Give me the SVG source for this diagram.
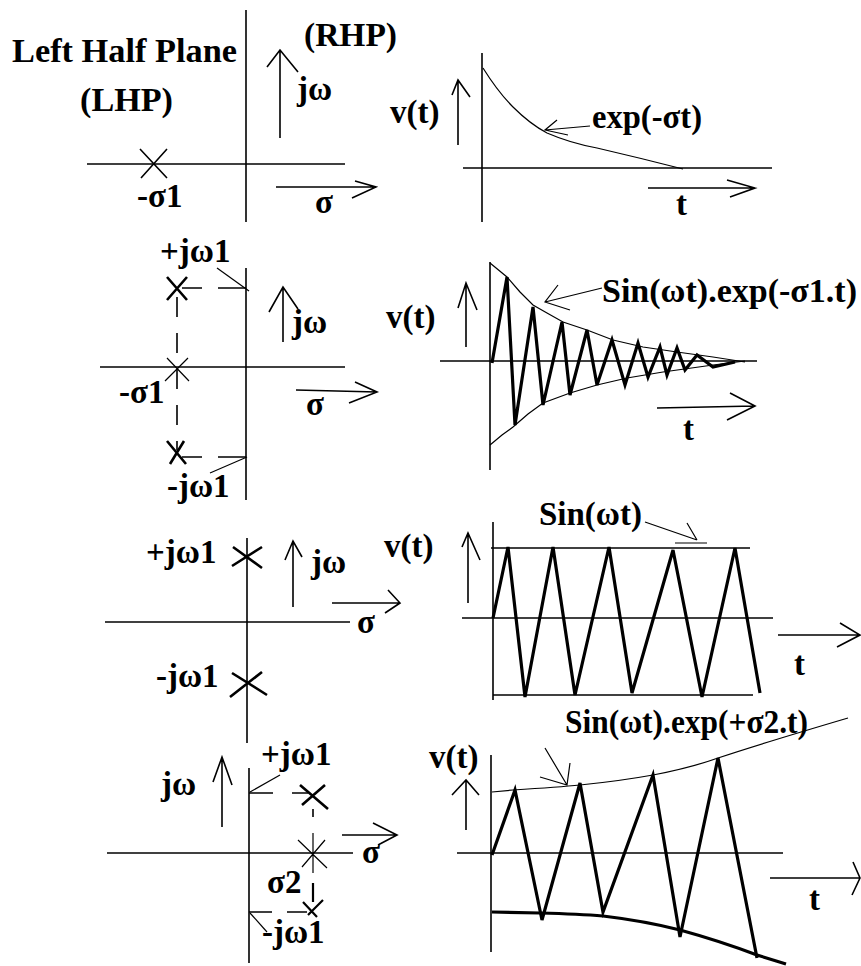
<svg xmlns="http://www.w3.org/2000/svg" width="861" height="966" viewBox="0 0 861 966">
<style>
text{font-family:"Liberation Serif","Times New Roman",serif;font-weight:bold;font-size:33px;fill:#000}
.ax{stroke:#000;stroke-width:1.6;fill:none}
.th{stroke:#000;stroke-width:1.2;fill:none}
.bd{stroke:#000;stroke-width:3.2;fill:none;stroke-linejoin:miter}
.ds{stroke:#000;stroke-width:1.6;fill:none;stroke-dasharray:20 16}
</style>
<rect width="861" height="966" fill="#fff"/>

<g id="splane1">
<line class="ax" x1="246" y1="10" x2="246" y2="222"/>
<line class="ax" x1="87" y1="164" x2="345" y2="164"/>
<path class="ax" d="M140,149 L167,178 M167,149 L141,178"/>
<text x="12" y="62" textLength="225" lengthAdjust="spacingAndGlyphs">Left Half Plane</text>
<text x="80" y="111" textLength="93" lengthAdjust="spacingAndGlyphs">(LHP)</text>
<text x="304" y="46" textLength="93" lengthAdjust="spacingAndGlyphs">(RHP)</text>
<text x="297" y="100">jω</text>
<text x="137" y="207">-σ1</text>
<text x="315" y="213">σ</text>
</g>
<g id="time1">
<line class="ax" x1="482" y1="53" x2="482" y2="222"/>
<line class="ax" x1="463" y1="168" x2="772" y2="168"/>
<path class="th" d="M483,68 Q498,92 513,107 Q530,124 547,133 Q570,143 597,148 Q640,158 683,169"/>
<text x="390" y="123">v(t)</text>
<text x="592" y="128" textLength="110" lengthAdjust="spacingAndGlyphs">exp(-σt)</text>
<text x="676" y="215">t</text>
</g>

<g id="splane2">
<line class="ax" x1="246" y1="268" x2="246" y2="500"/>
<line class="ax" x1="100" y1="367" x2="345" y2="367"/>
<path class="bd" d="M167,277 L187,300 M187,277 L167,300" style="stroke-width:2.6"/>
<path class="th" d="M167,358 L189,381 M188,358 L165,381"/>
<path class="bd" d="M167,441 L186,464 M184,441 L170,464" style="stroke-width:2.6"/>
<path class="ax" d="M182,288 L202,288 M218,288 L246,288"/>
<path class="ax" d="M182,457 L202,457 M218,457 L246,457"/>
<line class="ds" x1="177" y1="297" x2="177" y2="450"/>
<text x="160" y="262">+jω1</text>
<text x="292" y="333">jω</text>
<text x="119" y="403">-σ1</text>
<text x="306" y="415">σ</text>
<text x="167" y="497">-jω1</text>
</g>
<g id="time2">
<line class="ax" x1="490" y1="262" x2="490" y2="470"/>
<line class="ax" x1="440" y1="361" x2="757" y2="361"/>
<polyline class="th" points="490,263 507,277 520,292 533,305 547,313 563,322 587,330 613,340 643,347 677,352 713,357 745,362"/>
<polyline class="th" points="490,445 502,435 513,427 528,414 543,403 570,393 597,385 627,378 663,372 713,365 745,361"/>
<polyline class="bd" points="492,363 507,277 515,425 533,307 543,405 562,322 570,395 587,330 597,385 612,340 625,385 638,343 648,377 660,347 667,375 677,348 685,370 697,355 713,367 735,362"/>
<text x="386" y="328">v(t)</text>
<text x="602" y="302" textLength="255" lengthAdjust="spacingAndGlyphs">Sin(ωt).exp(-σ1.t)</text>
<text x="683" y="440">t</text>
</g>

<g id="splane3">
<line class="ax" x1="247" y1="538" x2="247" y2="743"/>
<line class="ax" x1="105" y1="622" x2="350" y2="622"/>
<path class="bd" d="M233,547 L262,568 M262,547 L232,566" style="stroke-width:2.6"/>
<path class="bd" d="M232,673 L267,695 M262,672 L230,697" style="stroke-width:2.6"/>
<text x="146" y="563">+jω1</text>
<text x="311" y="573">jω</text>
<text x="357" y="633">σ</text>
<text x="156" y="687">-jω1</text>
</g>
<g id="time3">
<line class="ax" x1="493" y1="522" x2="493" y2="700"/>
<line class="ax" x1="491" y1="548" x2="750" y2="548"/>
<line class="ax" x1="462" y1="618" x2="773" y2="618"/>
<line class="ax" x1="493" y1="695" x2="753" y2="695"/>
<polyline class="bd" points="493,618 508,547 525,697 553,547 575,695 609,547 632,693 673,550 702,697 735,548 760,693"/>
<text x="384" y="557">v(t)</text>
<text x="539" y="525">Sin(ωt)</text>
<text x="794" y="675">t</text>
</g>

<g id="splane4">
<line class="ax" x1="249" y1="768" x2="249" y2="963"/>
<line class="ax" x1="107" y1="853" x2="353" y2="853"/>
<path class="bd" d="M300,785 L328,809 M325,785 L302,805" style="stroke-width:2.6"/>
<path class="th" d="M313,833 L313,873 M298,840 L327,868 M325,840 L302,867"/>
<path class="ax" d="M313,883 L313,902 M303,902 L317,917 M323,900 L308,915" style="stroke-width:2.2"/>
<path class="ax" d="M313,809 L313,817"/>
<path class="ax" d="M249,793 L273,793 M292,793 L308,793"/>
<path class="ax" d="M249,912 L272,912 M287,912 L307,912"/>
<text x="261" y="765">+jω1</text>
<text x="161" y="795">jω</text>
<text x="362" y="863">σ</text>
<text x="267" y="893">σ2</text>
<text x="262" y="943">-jω1</text>
</g>
<g id="time4">
<line class="ax" x1="491" y1="755" x2="491" y2="952"/>
<line class="ax" x1="457" y1="853" x2="783" y2="853"/>
<path class="th" d="M492,792 L513,790 Q560,787 580,785 Q620,781 653,775 Q690,768 718,758 Q760,744 848,718"/>
<path class="bd" d="M492,912 L540,913 Q580,914 603,916 Q645,921 680,930 Q720,941 757,955 L786,964"/>
<polyline class="bd" points="492,855 515,790 542,920 580,783 603,912 653,775 680,937 718,758 757,958"/>
<text x="429" y="768">v(t)</text>
<text x="565" y="733" textLength="243" lengthAdjust="spacingAndGlyphs">Sin(ωt).exp(+σ2.t)</text>
<text x="809" y="910">t</text>
</g>

<g id="connectors">
<path class="ax" d="M280,138 L280,50 M267,67 L280,50 L298,72"/>
<path class="ax" d="M276,187 L376,187 M355,181 L376,187 L352,198"/>
<path class="ax" d="M458,145 L458,80 M452,95 L458,80 L470,97"/>
<path class="th" d="M590,126 L545,130 M557,120 L545,130 L568,135"/>
<path class="ax" d="M648,188 L755,188 M727,180 L755,188 L730,197"/>
<path class="th" d="M217,268 L249,291"/>
<path class="th" d="M210,473 L247,457"/>
<path class="ax" d="M283,342 L283,287 M269,312 L283,287 L298,309"/>
<path class="ax" d="M296,390 L377,392 M355,382 L377,392 L349,403"/>
<path class="ax" d="M466,347 L466,283 M458,308 L466,283 L477,310"/>
<path class="th" d="M602,288 L545,302 M558,285 L545,302 L570,310"/>
<path class="ax" d="M657,408 L755,406 M730,393 L755,406 L727,420"/>
<path class="ax" d="M293,607 L293,541 M285,560 L293,541 L302,557"/>
<path class="ax" d="M332,603 L400,603 M388,590 L400,603 L385,613"/>
<path class="ax" d="M468,603 L468,533 M462,547 L468,533 L480,560"/>
<path class="th" d="M645,522 L697,540 M687,523 L697,540 M675,543 L707,543"/>
<path class="ax" d="M778,635 L860,635 M840,623 L860,635 L837,647"/>
<path class="th" d="M280,775 L250,792"/>
<path class="th" d="M250,913 L267,932"/>
<path class="ax" d="M222,827 L222,757 M213,782 L222,757 L232,785"/>
<path class="ax" d="M342,835 L397,835 M373,823 L397,835 L378,845"/>
<path class="ax" d="M466,830 L466,780 M452,795 L466,780 L479,795"/>
<path class="th" d="M545,748 L567,785 M540,777 L567,785 L570,763"/>
<path class="ax" d="M770,878 L860,878 M853,862 L860,878 L852,895"/>
</g>
</svg>
